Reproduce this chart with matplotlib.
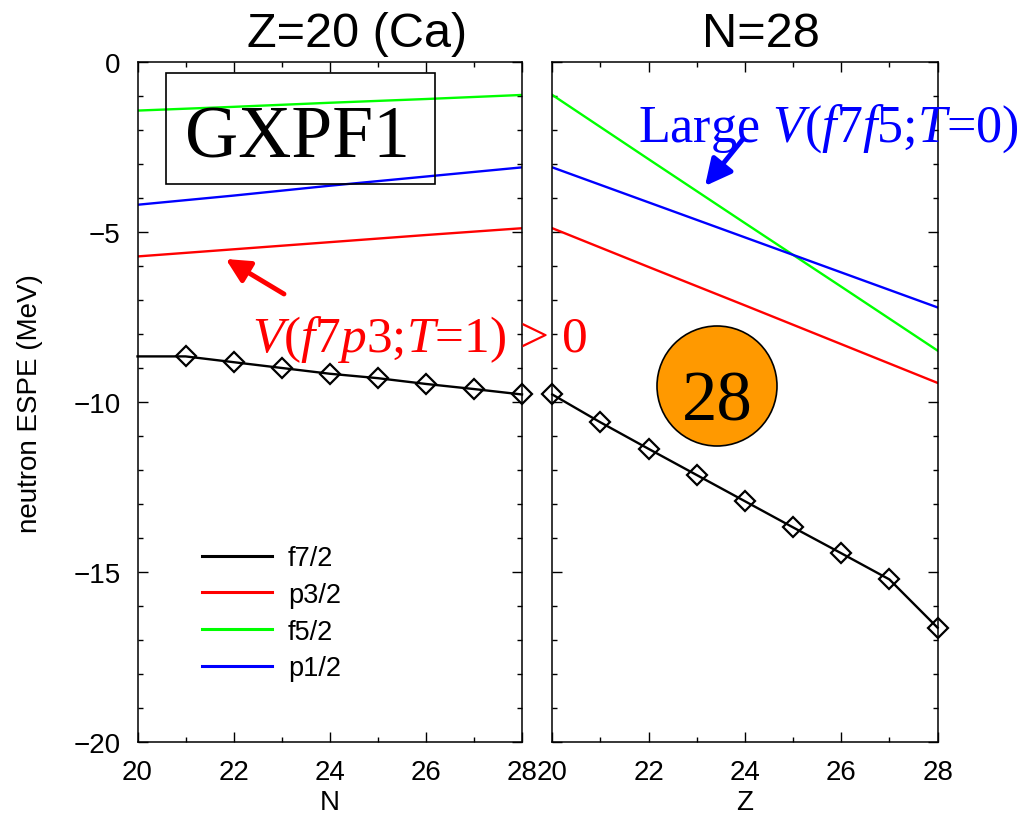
import matplotlib
matplotlib.use("Agg")
import matplotlib.pyplot as plt
from matplotlib.patches import Circle, Rectangle
from matplotlib.ticker import MultipleLocator

plt.rcParams['font.family'] = ['Liberation Sans', 'DejaVu Sans']
plt.rcParams['mathtext.fontset'] = 'custom'
plt.rcParams['mathtext.rm'] = 'Liberation Serif'
plt.rcParams['mathtext.it'] = 'Liberation Serif:italic'

# ---------------- data ----------------
# Left panel: Z=20 (Ca), x = N
N_even = [20, 22, 24, 26, 28]
ca_f52 = [-1.42, -1.31, -1.19, -1.08, -0.96]
ca_p12 = [-4.19, -3.92, -3.63, -3.36, -3.09]
ca_p32 = [-5.71, -5.50, -5.29, -5.08, -4.88]
N_all = [20, 21, 22, 23, 24, 25, 26, 27, 28]
ca_f72 = [-8.65, -8.65, -8.82, -8.99, -9.16, -9.29, -9.46, -9.61, -9.77]

# Right panel: N=28, x = Z
Z_even = [20, 22, 24, 26, 28]
n28_f52 = [-0.96, -2.85, -4.73, -6.60, -8.48]
n28_p12 = [-3.09, -4.12, -5.15, -6.18, -7.21]
n28_p32 = [-4.88, -6.02, -7.15, -8.29, -9.43]
Z_all = [20, 21, 22, 23, 24, 25, 26, 27, 28]
n28_f72 = [-9.77, -10.59, -11.37, -12.14, -12.91, -13.68, -14.44, -15.21, -16.63]

orbit_labels = ['f7/2', 'p3/2', 'f5/2', 'p1/2']
orbit_colors = ['black', '#ff0000', '#00ff00', '#0000ff']

W, H = 1036, 820
fig = plt.figure(figsize=(W / 100, H / 100), dpi=100)

def fr(x0, x1, ytop, ybot):
    return [x0 / W, (H - ybot) / H, (x1 - x0) / W, (ybot - ytop) / H]

AX_L, AX_R = 137.5, 522
ax1 = fig.add_axes(fr(AX_L, AX_R, 63.3, 743.3))
ax2 = fig.add_axes(fr(552.3, 937.6, 63.3, 743.3))

LW = 1.7
for ax in (ax1, ax2):
    ax.set_xlim(20, 28)
    ax.set_ylim(-20, 0)
    ax.xaxis.set_major_locator(MultipleLocator(2))
    ax.xaxis.set_minor_locator(MultipleLocator(1))
    ax.yaxis.set_major_locator(MultipleLocator(5))
    ax.yaxis.set_minor_locator(MultipleLocator(1))
    ax.tick_params(which='both', direction='in', top=True, right=True, width=1.0,
                   labelsize=20, pad=12)
    ax.tick_params(which='major', length=7.2)
    ax.tick_params(which='minor', length=3.6)
    for s in ax.spines.values():
        s.set_linewidth(1.1)

MS = 10.5
# left panel lines
ax1.plot(N_all, ca_f72, color=orbit_colors[0], lw=LW, marker='D', ms=MS, mfc='none',
         mew=1.6, markevery=slice(1, None), clip_on=False, zorder=5)
ax1.plot(N_even, ca_p32, color=orbit_colors[1], lw=LW)
ax1.plot(N_even, ca_f52, color=orbit_colors[2], lw=LW)
ax1.plot(N_even, ca_p12, color=orbit_colors[3], lw=LW)

# right panel lines
ax2.plot(Z_all, n28_f72, color=orbit_colors[0], lw=LW, marker='D', ms=MS, mfc='none',
         mew=1.6, clip_on=False, zorder=5)
ax2.plot(Z_even, n28_p32, color=orbit_colors[1], lw=LW)
ax2.plot(Z_even, n28_f52, color=orbit_colors[2], lw=LW)
ax2.plot(Z_even, n28_p12, color=orbit_colors[3], lw=LW)
ax2.tick_params(labelleft=False)

ax1.set_xlabel('N', fontsize=20, labelpad=3)
ax2.set_xlabel('Z', fontsize=20, labelpad=3)
ax1.set_ylabel('neutron ESPE (MeV)', fontsize=20)
ax1.yaxis.set_label_coords((43 - AX_L) / (AX_R - AX_L), 0.5)

# legend
handles = [plt.Line2D([], [], color=c, lw=2.2) for c in orbit_colors]
leg = ax1.legend(handles, orbit_labels, loc='upper left',
                 bbox_to_anchor=((202 - AX_L) / (AX_R - AX_L), (743.3 - 546) / 680),
                 frameon=False, fontsize=19.5, handlelength=2.58, handletextpad=0.6,
                 labelspacing=0.4, borderpad=0, borderaxespad=0)

def px(x, y):
    return (x, H - y)

# titles
fig.text(357 / W, (H - 47) / H, 'Z=20 (Ca)', fontsize=35, ha='center', va='baseline')
fig.text(761 / W, (H - 47) / H, 'N=28', fontsize=35, ha='center', va='baseline')

# GXPF1 box
fig.patches.append(Rectangle((166 / W, (H - 185) / H), (435 - 166) / W, (185 - 74) / H,
                             transform=fig.transFigure, fill=False, ec='black', lw=1.2,
                             zorder=10))
fig.text(297 / W, (H - 158) / H, 'GXPF1', fontsize=53, family='Liberation Serif',
         ha='center', va='baseline', zorder=11)

# red annotation
fig.text(252 / W, (H - 352) / H, r'$V$($f$7$p$3;$T$=1) > 0', fontsize=37,
         family='Liberation Serif', color='#ff0000', ha='left', va='baseline', zorder=11)
ax1.annotate('', xy=px(225.7, 260), xycoords='figure pixels',
             xytext=px(284, 295), textcoords='figure pixels',
             arrowprops=dict(arrowstyle='-|>', color='#ff0000', lw=3.5,
                             mutation_scale=36, shrinkA=0, shrinkB=0))

# blue annotation
fig.text(638 / W, (H - 142) / H, r'Large $V$($f$7$f$5;$T$=0)', fontsize=37.5,
         family='Liberation Serif', color='#0000ff', ha='left', va='baseline', zorder=11)
ax2.annotate('', xy=px(705, 187), xycoords='figure pixels',
             xytext=px(743, 140), textcoords='figure pixels',
             arrowprops=dict(arrowstyle='-|>', color='#0000ff', lw=3.5,
                             mutation_scale=40, shrinkA=0, shrinkB=0))

# orange magic-number circle
circ = Circle((717 / 100, (H - 387) / 100), 0.60, transform=fig.dpi_scale_trans,
              facecolor='#ff9900', edgecolor='black', lw=1.2, zorder=12, clip_on=False)
fig.patches.append(circ)
fig.text(717 / W, (H - 421) / H, '28', fontsize=51, family='Liberation Serif',
         ha='center', va='baseline', zorder=13)

fig.savefig('out.png', dpi=100)
